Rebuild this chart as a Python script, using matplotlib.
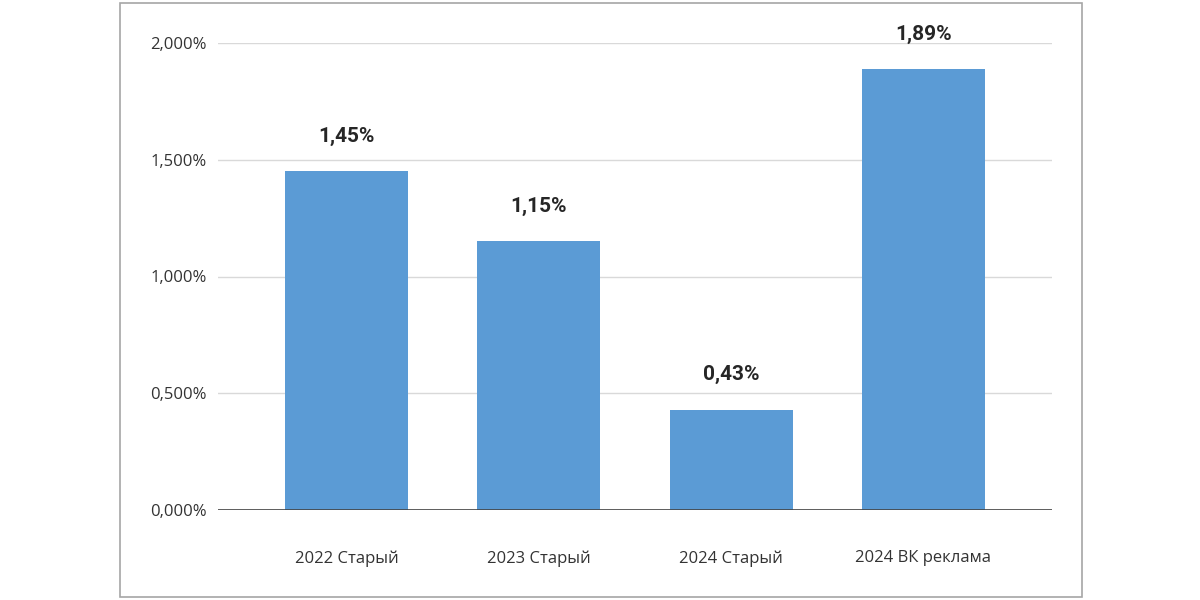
import matplotlib.pyplot as plt
from matplotlib.patches import Rectangle
from matplotlib.ticker import FuncFormatter

categories = ["2022 Старый", "2023 Старый", "2024 Старый", "2024 ВК реклама"]
values = [1.45, 1.15, 0.43, 1.89]
labels = ["1,45%", "1,15%", "0,43%", "1,89%"]

plt.rcParams['font.family'] = ['Open Sans', 'DejaVu Sans']

fig = plt.figure(figsize=(12, 6), dpi=100)
ax = fig.add_axes([218 / 1200, 90 / 600, 834 / 1200, 467 / 600])

x = range(len(categories))
bars = ax.bar(x, values, width=0.64, color="#5B9BD5", zorder=3)

for b, lab in zip(bars, labels):
    ax.annotate(lab, (b.get_x() + b.get_width() / 2, b.get_height()),
                xytext=(0, 25), textcoords="offset points",
                ha="center", va="center", fontsize=15, fontweight="bold",
                color="#262626", family=['Roboto', 'DejaVu Sans'])

ax.set_ylim(0, 2.0)
ax.set_xlim(-0.67, 3.67)
ax.set_yticks([0, 0.5, 1.0, 1.5, 2.0])
ax.yaxis.set_major_formatter(FuncFormatter(lambda v, p: f"{v:.3f}%".replace(".", ",")))
ax.set_xticks(list(x))
ax.set_xticklabels(categories)
ax.tick_params(axis="y", length=0, pad=8, labelsize=12, labelcolor="#333333")
ax.tick_params(axis="x", length=0, pad=29, labelsize=12, labelcolor="#333333")

ax.grid(axis="y", color="#D9D9D9", linewidth=1, zorder=0)
ax.axhline(0, color="#444444", linewidth=1.2, zorder=4)
for s in ax.spines.values():
    s.set_visible(False)

fig.patches.append(Rectangle((120 / 1200, 3 / 600), 962 / 1200, 594 / 600,
                             transform=fig.transFigure, fill=False,
                             edgecolor="#A6A6A6", linewidth=1.2))

fig.savefig("out.png", dpi=100)
